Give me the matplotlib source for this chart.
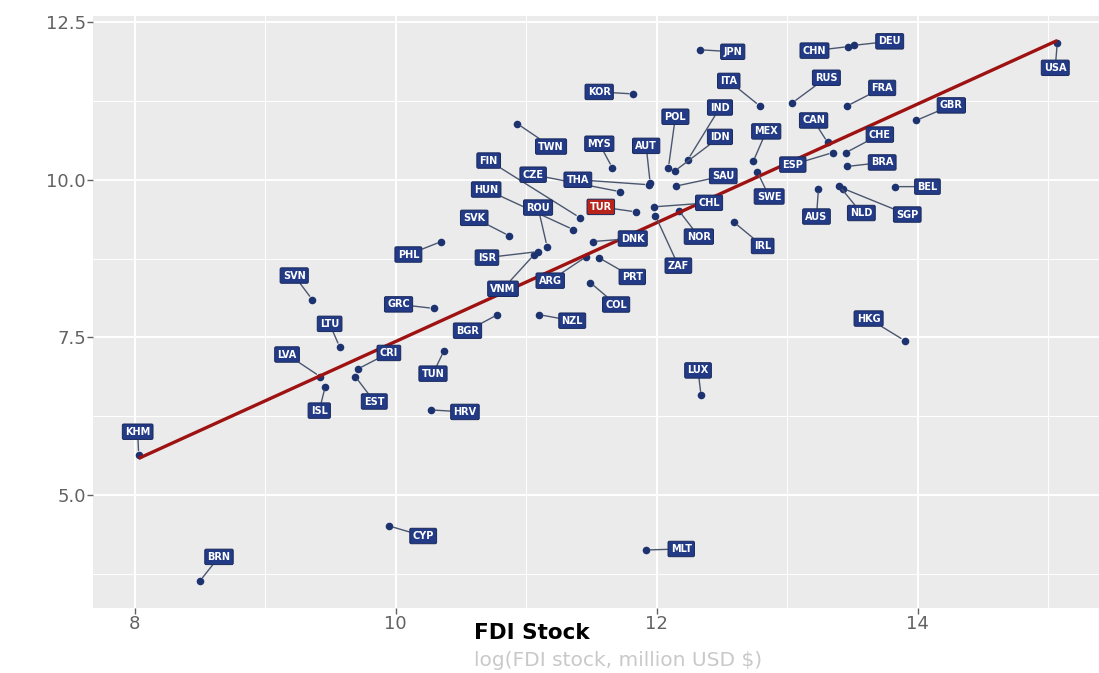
import numpy as np
import matplotlib
matplotlib.use("Agg")
import matplotlib.pyplot as plt

# log FDI stock (x) against log of the outcome (y), one point per economy
countries = ["KHM", "BRN", "SVN", "LTU", "LVA", "ISL", "CRI", "EST", "GRC", "PHL",
             "CYP", "HRV", "TUN", "BGR", "VNM", "ISR", "SVK", "HUN", "FIN", "CZE",
             "ROU", "TWN", "ARG", "NZL", "COL", "PRT", "DNK", "TUR", "MYS", "THA",
             "KOR", "AUT", "POL", "IDN", "IND", "JPN", "ITA", "SAU", "CHL", "NOR",
             "ZAF", "MLT", "LUX", "MEX", "SWE", "IRL", "ESP", "CAN", "RUS", "CHN",
             "DEU", "FRA", "CHE", "BRA", "AUS", "NLD", "SGP", "BEL", "GBR", "HKG",
             "USA"]
fdi_stock = [8.03, 8.50, 9.36, 9.57, 9.42, 9.46, 9.71, 9.69, 10.29, 10.35,
             9.95, 10.27, 10.37, 10.78, 11.06, 11.09, 10.87, 11.36, 11.41, 11.72,
             11.16, 10.93, 11.46, 11.10, 11.49, 11.56, 11.51, 11.84, 11.66, 11.94,
             11.82, 11.95, 12.09, 12.14, 12.24, 12.33, 12.79, 12.15, 11.98, 12.17,
             11.99, 11.92, 12.34, 12.74, 12.77, 12.59, 13.35, 13.31, 13.04, 13.47,
             13.51, 13.46, 13.45, 13.46, 13.24, 13.40, 13.43, 13.83, 13.99, 13.90,
             15.07]
outcome = [5.64, 3.64, 8.10, 7.35, 6.88, 6.72, 7.00, 6.88, 7.96, 9.02,
           4.51, 6.35, 7.29, 7.86, 8.81, 8.86, 9.11, 9.21, 9.40, 9.81,
           8.94, 10.89, 8.78, 7.86, 8.37, 8.76, 9.02, 9.49, 10.19, 9.92,
           11.36, 9.95, 10.19, 10.14, 10.32, 12.06, 11.17, 9.90, 9.57, 9.51,
           9.43, 4.13, 6.58, 10.29, 10.13, 9.33, 10.43, 10.59, 11.22, 12.11,
           12.13, 11.17, 10.43, 10.21, 9.86, 9.90, 9.86, 9.89, 10.94, 7.45,
           12.17]
highlight = "TUR"

x_ticks = [8, 10, 12, 14]
y_ticks = [5.0, 7.5, 10.0, 12.5]
x_title = "FDI Stock"
x_subtitle = "log(FDI stock, million USD $)"

# repelled label placement: offset of each label from its point, in pixels
label_offsets = {
    "KHM": (-1, 23), "BRN": (19, 24), "SVN": (-18, 24), "LTU": (-10, 23),
    "LVA": (-33, 22), "ISL": (-6, -24), "CRI": (31, 16), "EST": (19, -25),
    "GRC": (-35, 4), "PHL": (-33, -13), "CYP": (34, -10), "HRV": (34, -2),
    "TUN": (-11, -23), "BGR": (-30, -16), "VNM": (-31, -34), "ISR": (-51, -6),
    "SVK": (-35, 18), "HUN": (-87, 40), "FIN": (-91, 57), "CZE": (-87, 17),
    "ROU": (-9, 39), "TWN": (34, -23), "ARG": (-36, -24), "NZL": (33, -6),
    "COL": (26, -22), "PRT": (33, -19), "DNK": (40, 3), "TUR": (-35, 5),
    "MYS": (-13, 24), "THA": (-71, 5), "KOR": (-34, 2), "AUT": (-4, 37),
    "POL": (7, 51), "IDN": (45, 34), "IND": (32, 52), "JPN": (33, -2),
    "ITA": (-31, 25), "SAU": (47, 10), "CHL": (55, 4), "NOR": (20, -26),
    "ZAF": (23, -50), "MLT": (35, 1), "LUX": (-3, 25), "MEX": (13, 30),
    "SWE": (12, -25), "IRL": (29, -24), "ESP": (-40, -12), "CAN": (-14, 22),
    "RUS": (34, 25), "CHN": (-34, -4), "DEU": (36, 4), "FRA": (35, 18),
    "CHE": (34, 18), "BRA": (35, 4), "AUS": (-2, -28), "NLD": (22, -27),
    "SGP": (64, -26), "BEL": (32, 0), "GBR": (35, 15), "HKG": (-36, 22),
    "USA": (-2, -25),
}

NAVY = "#233b86"
DOT = "#1d3370"
RED_BOX = "#b8231c"
FIT = "#9e1212"
PANEL = "#ebebeb"
TICK_GREY = "#626262"

fig = plt.figure(figsize=(10.99, 6.73), dpi=100)
fig.patch.set_facecolor("white")
W, H = 1099, 673
ax = fig.add_axes([93 / W, 1 - 608 / H, (1099 - 93) / W, (608 - 15.7) / H])
ax.set_facecolor(PANEL)
for s in ax.spines.values():
    s.set_visible(False)

ax.set_xlim(7.68, 15.39)
ax.set_ylim(3.21, 12.60)

# ggplot-style grid: thin minor lines half way between the majors
ax.set_xticks(x_ticks)
ax.set_yticks(y_ticks)
ax.set_xticks([9, 11, 13, 15], minor=True)
ax.set_yticks([3.75, 6.25, 8.75, 11.25], minor=True)
ax.grid(True, which="major", color="white", lw=1.4)
ax.grid(True, which="minor", color="white", lw=0.7)
ax.set_axisbelow(True)
ax.set_xticklabels([str(t) for t in x_ticks])
ax.set_yticklabels([f"{t:.1f}" for t in y_ticks])
ax.tick_params(which="major", length=4, width=1, color=TICK_GREY,
               labelcolor=TICK_GREY, labelsize=13, pad=1)
ax.tick_params(which="minor", length=0)

xs = np.array(fdi_stock)
ys = np.array(outcome)

ax.scatter(xs, ys, s=30, color=DOT, zorder=3, linewidths=0)

# least-squares fit over the observed range
slope, intercept = np.polyfit(xs, ys, 1)
xf = np.array([xs.min(), xs.max()])
ax.plot(xf, intercept + slope * xf, color=FIT, lw=2.4, zorder=4,
        solid_capstyle="butt")

for code, x, y in zip(countries, xs, ys):
    dx, dy = label_offsets[code]
    fc = RED_BOX if code == highlight else NAVY
    ax.annotate(code, xy=(x, y), xytext=(dx, dy), textcoords="offset pixels",
                ha="center", va="center", fontsize=7, fontweight="bold",
                color="white", zorder=6,
                bbox=dict(boxstyle="round,pad=0.28,rounding_size=0.15",
                          fc=fc, ec="#18285a", lw=0.7),
                arrowprops=dict(arrowstyle="-", color="#4a5670", lw=1.0,
                                shrinkA=0, shrinkB=3))

fig.text(474 / W, 1 - 633 / H, x_title, fontsize=15.5, fontweight="bold",
         color="black", ha="left", va="center")
fig.text(474 / W, 1 - 660 / H, x_subtitle, fontsize=14.5, color="#c9c9c9",
         ha="left", va="center")

fig.savefig("out.png", dpi=100, facecolor="white")
